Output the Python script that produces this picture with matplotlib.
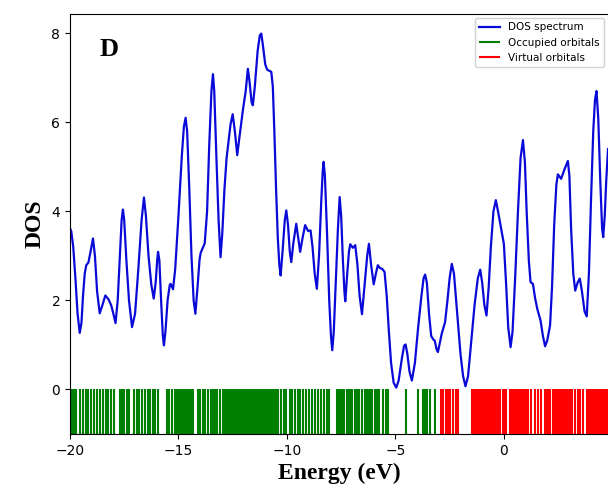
import numpy as np
import matplotlib.pyplot as plt

# Broadened density of states, sampled along the energy axis (eV)
dos_energy = [
    -20.00, -19.94, -19.85, -19.75, -19.65, -19.55, -19.47, -19.40, -19.32, -19.25,
    -19.15, -19.05, -18.94, -18.85, -18.75, -18.63, -18.50, -18.37, -18.22, -18.10,
    -18.00, -17.90, -17.80, -17.70, -17.62, -17.56, -17.50, -17.40, -17.28, -17.14,
    -17.00, -16.85, -16.70, -16.59, -16.50, -16.38, -16.25, -16.14, -16.05, -15.98,
    -15.94, -15.88, -15.80, -15.72, -15.67, -15.60, -15.50, -15.40, -15.36, -15.25,
    -15.15, -15.00, -14.85, -14.75, -14.67, -14.60, -14.50, -14.40, -14.30, -14.22,
    -14.12, -14.03, -13.98, -13.79, -13.68, -13.58, -13.48, -13.41, -13.35, -13.25,
    -13.15, -13.06, -12.98, -12.88, -12.78, -12.72, -12.60, -12.50, -12.40, -12.29,
    -12.18, -12.03, -11.90, -11.80, -11.72, -11.63, -11.57, -11.48, -11.35, -11.25,
    -11.18, -11.10, -11.00, -10.91, -10.80, -10.72, -10.65, -10.58, -10.50, -10.42,
    -10.35, -10.29, -10.20, -10.10, -10.03, -9.95, -9.87, -9.80, -9.70, -9.57,
    -9.48, -9.39, -9.28, -9.16, -9.03, -8.91, -8.82, -8.72, -8.62, -8.52,
    -8.42, -8.35, -8.31, -8.25, -8.15, -8.05, -7.97, -7.91, -7.84, -7.75,
    -7.65, -7.57, -7.50, -7.42, -7.35, -7.31, -7.22, -7.14, -7.08, -6.96,
    -6.85, -6.75, -6.65, -6.54, -6.43, -6.30, -6.22, -6.12, -6.00, -5.90,
    -5.81, -5.70, -5.61, -5.50, -5.40, -5.30, -5.20, -5.08, -4.96, -4.85,
    -4.70, -4.60, -4.53, -4.45, -4.35, -4.24, -4.10, -3.95, -3.80, -3.70,
    -3.63, -3.55, -3.45, -3.35, -3.25, -3.19, -3.10, -3.04, -2.95, -2.86,
    -2.71, -2.60, -2.50, -2.40, -2.30, -2.15, -2.00, -1.88, -1.77, -1.65,
    -1.50, -1.35, -1.20, -1.09, -1.00, -0.90, -0.80, -0.70, -0.60, -0.48,
    -0.37, -0.25, -0.10, 0.00, 0.10, 0.20, 0.31, 0.40, 0.52, 0.65,
    0.77, 0.88, 0.97, 1.05, 1.15, 1.23, 1.34, 1.44, 1.54, 1.69,
    1.80, 1.90, 2.00, 2.13, 2.22, 2.32, 2.42, 2.49, 2.64, 2.80,
    2.95, 3.02, 3.10, 3.20, 3.29, 3.40, 3.50, 3.60, 3.72, 3.82,
    3.92, 4.02, 4.12, 4.20, 4.27, 4.35, 4.45, 4.53, 4.58, 4.65,
    4.72, 4.80,
]
dos_value = [
    3.62, 3.55, 3.20, 2.50, 1.70, 1.27, 1.50, 2.10, 2.60, 2.79,
    2.85, 3.10, 3.39, 3.00, 2.20, 1.71, 1.90, 2.11, 2.02, 1.89,
    1.70, 1.49, 2.00, 3.00, 3.80, 4.04, 3.80, 2.90, 2.00, 1.40,
    1.70, 2.70, 3.80, 4.31, 3.90, 3.00, 2.35, 2.04, 2.40, 2.90,
    3.09, 2.90, 2.00, 1.20, 0.99, 1.30, 2.00, 2.35, 2.37, 2.25,
    2.70, 3.90, 5.20, 5.90, 6.10, 5.80, 4.50, 3.00, 2.00, 1.70,
    2.30, 2.90, 3.06, 3.28, 4.00, 5.50, 6.70, 7.08, 6.70, 5.20,
    3.80, 2.97, 3.50, 4.50, 5.20, 5.45, 5.95, 6.18, 5.80, 5.26,
    5.70, 6.27, 6.70, 7.20, 6.90, 6.45, 6.38, 6.80, 7.60, 7.95,
    7.99, 7.70, 7.30, 7.18, 7.15, 7.13, 6.80, 5.80, 4.50, 3.40,
    2.80, 2.56, 3.10, 3.80, 4.02, 3.70, 3.10, 2.86, 3.30, 3.72,
    3.40, 3.09, 3.40, 3.69, 3.56, 3.57, 3.20, 2.60, 2.26, 3.00,
    4.20, 4.90, 5.11, 4.80, 3.50, 2.00, 1.20, 0.88, 1.30, 2.40,
    3.60, 4.32, 3.90, 2.90, 2.20, 1.98, 2.60, 3.10, 3.26, 3.18,
    3.24, 2.80, 2.10, 1.69, 2.30, 3.00, 3.27, 2.80, 2.36, 2.60,
    2.79, 2.72, 2.71, 2.64, 2.10, 1.30, 0.60, 0.15, 0.04, 0.20,
    0.70, 0.98, 1.01, 0.80, 0.40, 0.20, 0.60, 1.40, 2.10, 2.50,
    2.58, 2.40, 1.70, 1.20, 1.12, 1.10, 0.90, 0.84, 1.05, 1.26,
    1.51, 2.00, 2.50, 2.82, 2.60, 1.70, 0.80, 0.30, 0.07, 0.30,
    1.10, 1.90, 2.50, 2.69, 2.40, 1.90, 1.66, 2.30, 3.20, 4.00,
    4.25, 3.95, 3.55, 3.27, 2.40, 1.40, 0.95, 1.30, 2.50, 4.00,
    5.20, 5.60, 5.10, 4.00, 2.90, 2.41, 2.37, 2.05, 1.81, 1.55,
    1.20, 0.97, 1.10, 1.44, 2.30, 3.70, 4.60, 4.83, 4.73, 4.95,
    5.13, 4.80, 3.60, 2.60, 2.22, 2.40, 2.49, 2.20, 1.75, 1.64,
    2.60, 4.30, 5.80, 6.50, 6.70, 6.10, 4.60, 3.60, 3.42, 3.90,
    4.70, 5.40,
]

# Orbital energies (eV)
occupied = [
    -19.92, -19.83, -19.72, -19.52, -19.40, -19.28, -19.15, -19.02, -18.88, -18.76,
    -18.62, -18.50, -18.36, -18.24, -18.10, -17.98,
    -17.69, -17.60, -17.50, -17.38, -17.26, -17.05, -16.93, -16.80, -16.68, -16.55,
    -16.42, -16.30, -16.18, -16.06, -15.93,
    -15.52, -15.42, -15.30,
    -15.15, -15.08, -15.01, -14.94, -14.87, -14.80, -14.73, -14.66, -14.59, -14.52,
    -14.45, -14.38, -14.33,
    -14.12, -14.00, -13.88, -13.76,
    -13.62, -13.52, -13.42, -13.32, -13.22, -13.08, -12.96,
    -12.86, -12.79, -12.72, -12.65, -12.58, -12.51, -12.44, -12.37, -12.30, -12.23,
    -12.16, -12.09, -12.02, -11.95, -11.88, -11.81, -11.74, -11.67, -11.60, -11.53,
    -11.46, -11.39, -11.32, -11.25, -11.18, -11.11, -11.04, -10.97, -10.90, -10.83,
    -10.76, -10.69, -10.62, -10.55, -10.50,
    -10.40, -10.28, -10.15, -10.02, -9.88, -9.76, -9.64, -9.50, -9.38, -9.26,
    -9.12, -9.00, -8.86, -8.72, -8.58, -8.44, -8.30, -8.16, -8.04,
    -7.71, -7.64, -7.56, -7.48, -7.37, -7.25, -7.17, -7.10, -6.98, -6.87,
    -6.78, -6.67, -6.56, -6.41, -6.33, -6.25, -6.17, -6.10, -5.95, -5.86,
    -5.75, -5.56, -5.44, -5.33,
    -4.52, -3.95, -3.75, -3.64, -3.53, -3.41, -3.18,
]
virtual = [
    -2.90, -2.80, -2.68, -2.57, -2.46, -2.34, -2.22, -2.11,
    -1.45, -1.38, -1.31, -1.26, -1.19, -1.12, -1.05, -0.98, -0.91, -0.84,
    -0.75, -0.65, -0.58, -0.51, -0.44, -0.37, -0.30, -0.26, -0.16, -0.06,
    0.04, 0.12, 0.27, 0.37, 0.47, 0.58,
    0.66, 0.73, 0.80, 0.87, 0.94, 1.01, 1.08, 1.12,
    1.27, 1.43, 1.58, 1.73, 1.89, 1.98, 2.06, 2.12,
    2.27, 2.34, 2.41, 2.48, 2.55, 2.62, 2.69, 2.76, 2.83, 2.90,
    2.97, 3.04, 3.12,
    3.27, 3.42, 3.53, 3.65,
    3.81, 3.88, 3.95, 4.02, 4.09, 4.16, 4.23, 4.27,
    4.35, 4.42, 4.49, 4.56, 4.63, 4.70, 4.77,
]

fig = plt.figure(figsize=(6.08, 4.97), dpi=100)
ax = fig.add_axes([0.1151, 0.1268, 0.8849, 0.845])

ax.plot(dos_energy, dos_value, color='#0a0ad8', linewidth=1.6, label='DOS spectrum')
ax.vlines(occupied, -1, 0, color='green', linewidth=1.5, label='Occupied orbitals')
ax.vlines(virtual, -1, 0, color='red', linewidth=1.5, label='Virtual orbitals')

ax.set_xlim(-20, 4.8)
ax.set_ylim(-1, 8.43)
ax.set_xticks([-20, -15, -10, -5, 0])
ax.set_yticks([0, 2, 4, 6, 8])
ax.spines['right'].set_visible(False)

ax.set_xlabel('Energy (eV)', fontsize=17, fontweight='bold', family='Liberation Serif')
ax.set_ylabel('DOS', fontsize=17, fontweight='bold', family='Liberation Serif')
ax.text(0.055, 0.915, 'D', transform=ax.transAxes, fontsize=19, fontweight='bold',
        family='Liberation Serif', va='center', ha='left')

ax.legend(loc='upper right', fontsize=7.5, framealpha=0.9, borderaxespad=0.4)

fig.savefig('out.png', dpi=100)
